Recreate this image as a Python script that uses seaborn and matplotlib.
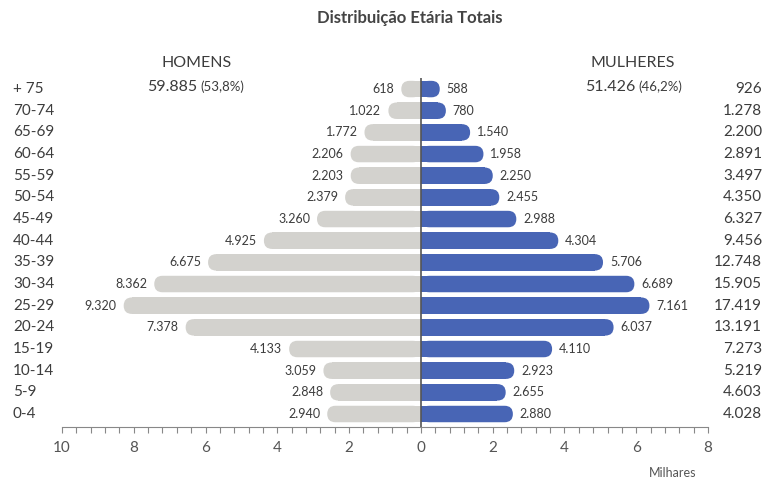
import matplotlib
matplotlib.use("Agg")
import matplotlib.pyplot as plt
import numpy as np
import pandas as pd
import seaborn as sns
from matplotlib.patches import FancyBboxPatch
from matplotlib.ticker import MultipleLocator

ages = ["+ 75", "70-74", "65-69", "60-64", "55-59", "50-54", "45-49", "40-44",
        "35-39", "30-34", "25-29", "20-24", "15-19", "10-14", "5-9", "0-4"]
men = [618, 1022, 1772, 2206, 2203, 2379, 3260, 4925,
       6675, 8362, 9320, 7378, 4133, 3059, 2848, 2940]
women = [588, 780, 1540, 1958, 2250, 2455, 2988, 4304,
         5706, 6689, 7161, 6037, 4110, 2923, 2655, 2880]
totals = ["926", "1.278", "2.200", "2.891", "3.497", "4.350", "6.327", "9.456",
          "12.748", "15.905", "17.419", "13.191", "7.273", "5.219", "4.603", "4.028"]
x_ticks = [-10, -8, -6, -4, -2, 0, 2, 4, 6, 8]

GRAY = "#d3d2ce"
BLUE = "#4865b5"
TEXT = "#3c3c3c"

sns.set_theme(style="white")
plt.rcParams["font.family"] = ["Lato", "DejaVu Sans"]

df = pd.DataFrame({"idade": ages,
                   "homens": [-v / 1000 for v in men],
                   "mulheres": [v / 1000 for v in women]})

W, H = 781, 479
rect = [62 / W, 1 - 427 / H, 646 / W, (427 - 70) / H]
fig = plt.figure(figsize=(W / 100, H / 100), dpi=100)

# the ruler below the bars is its own axis in the original (scale differs
# slightly from the bars), so draw it on a separate axes
ax_scale = fig.add_axes(rect)
ax = fig.add_axes(rect)
ax.patch.set_alpha(0)

sns.barplot(data=df, x="homens", y="idade", orient="h", color=GRAY,
            width=0.76, saturation=1, ax=ax)
sns.barplot(data=df, x="mulheres", y="idade", orient="h", color=BLUE,
            width=0.76, saturation=1, ax=ax)

px_unit = 31.9
ax.set_xlim(-(421 - 62) / px_unit, (708 - 421) / px_unit)
ax.set_ylim(15.6, -0.88)

# round the outer end of each bar
xspan = ax.get_xlim()[1] - ax.get_xlim()[0]
px_x = 646 / xspan
px_y = (427 - 70) / 16.48
for p in list(ax.patches):
    x, y, w, h = p.get_x(), p.get_y(), p.get_width(), p.get_height()
    x0, x1 = min(x, x + w), max(x, x + w)
    ry = h / 2
    rx = ry * px_y / px_x
    fb = FancyBboxPatch((x0, y), x1 - x0, h,
                        boxstyle=f"round,pad=0,rounding_size={rx}",
                        mutation_aspect=ry / rx, fc=p.get_facecolor(),
                        ec="none", lw=0, zorder=p.get_zorder())
    ax.add_patch(fb)
    if w >= 0:
        p.set_width(w - rx)
    else:
        p.set_width(w + rx)
    p.set_edgecolor("none")

ax.vlines(0, -0.5, 15.6, color="#555555", lw=1.2, zorder=5)

# value labels
for i, (m, f) in enumerate(zip(men, women)):
    ax.annotate(f"{m:,}".replace(",", "."), (-m / 1000, i), xytext=(-5, 0),
                textcoords="offset points", ha="right", va="center",
                fontsize=9, color=TEXT)
    ax.annotate(f"{f:,}".replace(",", "."), (f / 1000, i), xytext=(5, 0),
                textcoords="offset points", ha="left", va="center",
                fontsize=9, color=TEXT)

ytr = ax.get_yaxis_transform()
for i, (a, t) in enumerate(zip(ages, totals)):
    ax.text(-49 / 646, i, a, transform=ytr, ha="left", va="center",
            fontsize=11, color=TEXT)
    ax.text(700 / 646, i, t, transform=ytr, ha="right", va="center",
            fontsize=11, color=TEXT)

ax.axis("off")

# ruler
ax_scale.set_xlim(-10, 8)
ax_scale.set_ylim(0, 1)
ax_scale.set_xticks(x_ticks)
ax_scale.set_xticklabels([str(abs(v)) for v in x_ticks], fontsize=11,
                         color="#555555")
ax_scale.xaxis.set_minor_locator(MultipleLocator(0.4))
ax_scale.tick_params(axis="x", which="both", bottom=True, length=4,
                     width=0.8, color="#888888", pad=6)
ax_scale.set_yticks([])
for s in ["left", "right", "top"]:
    ax_scale.spines[s].set_visible(False)
ax_scale.spines["bottom"].set_color("#888888")
ax_scale.spines["bottom"].set_linewidth(0.8)

# header texts
fig.text(410 / W, 1 - 18 / H, "Distribuição Etária Totais", ha="center",
         va="center", fontsize=12, fontweight="bold", color="#444444")
fig.text(197 / W, 1 - 63 / H, "HOMENS", ha="center", va="center",
         fontsize=11.5, color=TEXT)
fig.text(633 / W, 1 - 63 / H, "MULHERES", ha="center", va="center",
         fontsize=11.5, color=TEXT)
fig.text(197 / W, 1 - 87 / H, "59.885", ha="right", va="center",
         fontsize=11.5, color=TEXT)
fig.text(200 / W, 1 - 87 / H, "(53,8%)", ha="left", va="center",
         fontsize=9.5, color=TEXT)
fig.text(635 / W, 1 - 87 / H, "51.426", ha="right", va="center",
         fontsize=11.5, color=TEXT)
fig.text(638 / W, 1 - 87 / H, "(46,2%)", ha="left", va="center",
         fontsize=9.5, color=TEXT)
fig.text(673 / W, 1 - 473 / H, "Milhares", ha="center", va="center",
         fontsize=9, color="#555555")

fig.savefig("out.png", dpi=100, facecolor="white")
